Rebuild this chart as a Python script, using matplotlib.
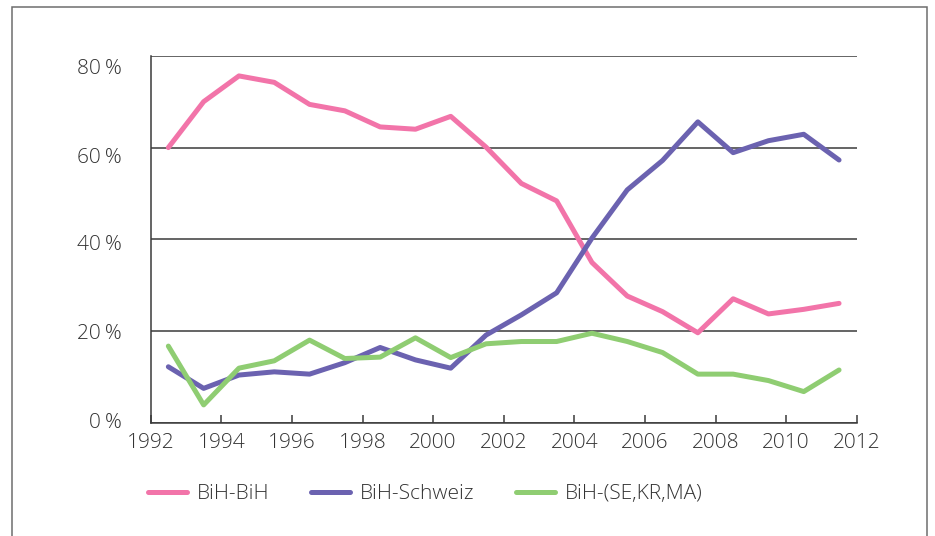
import matplotlib
matplotlib.use('Agg')
import matplotlib.pyplot as plt
import matplotlib.patches as patches
from matplotlib.transforms import ScaledTranslation

plt.rcParams['font.family'] = ['Open Sans', 'DejaVu Sans']
plt.rcParams['font.weight'] = 'light'

years = [1992.5 + i for i in range(20)]
bih_bih = [60.0, 70.0, 75.6, 74.2, 69.4, 68.0, 64.5, 64.0, 66.8, 60.1,
           52.2, 48.4, 35.0, 27.7, 24.3, 19.7, 27.1, 23.8, 24.8, 26.1]
bih_schweiz = [12.3, 7.6, 10.5, 11.2, 10.7, 13.2, 16.5, 13.8, 12.0, 19.2,
               23.6, 28.4, 40.3, 50.8, 57.2, 65.6, 58.9, 61.5, 62.9, 57.3]
bih_other = [16.8, 4.0, 12.0, 13.6, 18.1, 14.1, 14.4, 18.6, 14.3, 17.3,
             17.8, 17.8, 19.6, 17.8, 15.4, 10.7, 10.7, 9.3, 6.9, 11.6]
labels = ['BiH-BiH', 'BiH-Schweiz', 'BiH-(SE,KR,MA)']
colors = ['#f274a9', '#6b62b0', '#8fcd72']
xticks = list(range(1992, 2013, 2))
yticks = [0, 20, 40, 60, 80]

W, H = 935, 536
fig = plt.figure(figsize=(W / 100, H / 100), dpi=100)
ax = fig.add_axes([150.7 / W, 1 - 423.3 / H, 706 / W, 367.6 / H])

for ys, c, lab in zip([bih_bih, bih_schweiz, bih_other], colors, labels):
    ax.plot(years, ys, color=c, lw=3.6, label=lab, solid_joinstyle='round',
            solid_capstyle='round')

ax.set_xlim(1992, 2012)
ax.set_ylim(0, 80)
ax.set_xticks(xticks)
ax.set_yticks(yticks)
ax.set_yticklabels([f'{v}\u2009%' for v in yticks])
ax.yaxis.grid(True, color='#3a3a3a', lw=1.1)
ax.set_axisbelow(True)
for s in ['top', 'right']:
    ax.spines[s].set_visible(False)
for s in ['left', 'bottom']:
    ax.spines[s].set_color('#3a3a3a')
    ax.spines[s].set_linewidth(1.1)
ax.tick_params(axis='x', direction='in', length=6, width=1.1, color='#3a3a3a',
               labelsize=15, labelcolor='#333333', pad=7)
ax.tick_params(axis='y', length=0, labelsize=15, labelcolor='#333333', pad=21)

# label offsets (px, downward) as in the reference
offs = [-2, 0, 2.5, 6, 8]
for lbl, dy in zip(ax.get_yticklabels(), offs):
    lbl.set_transform(lbl.get_transform() + ScaledTranslation(0, -dy / 72, fig.dpi_scale_trans))

leg = ax.legend(loc='center left', bbox_to_anchor=(148 / W, 1 - 494 / H),
                bbox_transform=fig.transFigure, ncol=3, frameon=False,
                fontsize=15, handlelength=1.85, handletextpad=0.5,
                columnspacing=2.0, borderpad=0, borderaxespad=0)
for t in leg.get_texts():
    t.set_color('#333333')
for h in leg.get_lines():
    h.set_linewidth(3.6)

fig.patches.append(patches.Rectangle((12 / W, -0.05), 915 / W, 1 - 7 / H + 0.05,
                                     transform=fig.transFigure, fill=False,
                                     edgecolor='#6d6d6d', lw=1.1))

fig.savefig('out.png', dpi=100)
